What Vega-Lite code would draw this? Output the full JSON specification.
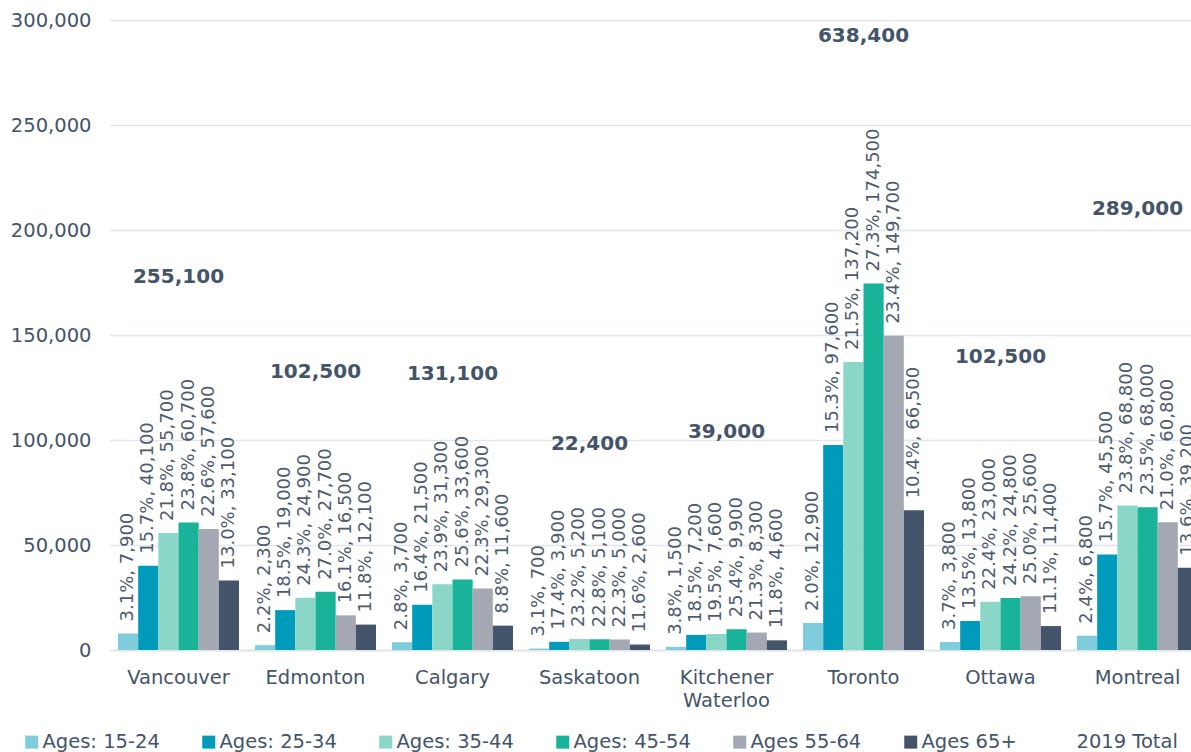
{
  "$schema": "https://vega.github.io/schema/vega-lite/v6.json",
  "width": 1081,
  "height": 630,
  "autosize": {"type": "none"},
  "padding": {"left": 110, "top": 20, "right": 0, "bottom": 102},
  "background": "white",
  "config": {
    "view": {"stroke": null},
    "font": "DejaVu Sans",
    "legend": {"padding": 0}
  },
  "datasets": {
    "ages": [
      {"city": "Vancouver", "group": "Ages: 15-24", "pct": 3.1, "value": 7900},
      {"city": "Vancouver", "group": "Ages: 25-34", "pct": 15.7, "value": 40100},
      {"city": "Vancouver", "group": "Ages: 35-44", "pct": 21.8, "value": 55700},
      {"city": "Vancouver", "group": "Ages: 45-54", "pct": 23.8, "value": 60700},
      {"city": "Vancouver", "group": "Ages 55-64", "pct": 22.6, "value": 57600},
      {"city": "Vancouver", "group": "Ages 65+", "pct": 13.0, "value": 33100},
      {"city": "Edmonton", "group": "Ages: 15-24", "pct": 2.2, "value": 2300},
      {"city": "Edmonton", "group": "Ages: 25-34", "pct": 18.5, "value": 19000},
      {"city": "Edmonton", "group": "Ages: 35-44", "pct": 24.3, "value": 24900},
      {"city": "Edmonton", "group": "Ages: 45-54", "pct": 27.0, "value": 27700},
      {"city": "Edmonton", "group": "Ages 55-64", "pct": 16.1, "value": 16500},
      {"city": "Edmonton", "group": "Ages 65+", "pct": 11.8, "value": 12100},
      {"city": "Calgary", "group": "Ages: 15-24", "pct": 2.8, "value": 3700},
      {"city": "Calgary", "group": "Ages: 25-34", "pct": 16.4, "value": 21500},
      {"city": "Calgary", "group": "Ages: 35-44", "pct": 23.9, "value": 31300},
      {"city": "Calgary", "group": "Ages: 45-54", "pct": 25.6, "value": 33600},
      {"city": "Calgary", "group": "Ages 55-64", "pct": 22.3, "value": 29300},
      {"city": "Calgary", "group": "Ages 65+", "pct": 8.8, "value": 11600},
      {"city": "Saskatoon", "group": "Ages: 15-24", "pct": 3.1, "value": 700},
      {"city": "Saskatoon", "group": "Ages: 25-34", "pct": 17.4, "value": 3900},
      {"city": "Saskatoon", "group": "Ages: 35-44", "pct": 23.2, "value": 5200},
      {"city": "Saskatoon", "group": "Ages: 45-54", "pct": 22.8, "value": 5100},
      {"city": "Saskatoon", "group": "Ages 55-64", "pct": 22.3, "value": 5000},
      {"city": "Saskatoon", "group": "Ages 65+", "pct": 11.6, "value": 2600},
      {"city": "Kitchener Waterloo", "group": "Ages: 15-24", "pct": 3.8, "value": 1500},
      {"city": "Kitchener Waterloo", "group": "Ages: 25-34", "pct": 18.5, "value": 7200},
      {"city": "Kitchener Waterloo", "group": "Ages: 35-44", "pct": 19.5, "value": 7600},
      {"city": "Kitchener Waterloo", "group": "Ages: 45-54", "pct": 25.4, "value": 9900},
      {"city": "Kitchener Waterloo", "group": "Ages 55-64", "pct": 21.3, "value": 8300},
      {"city": "Kitchener Waterloo", "group": "Ages 65+", "pct": 11.8, "value": 4600},
      {"city": "Toronto", "group": "Ages: 15-24", "pct": 2.0, "value": 12900},
      {"city": "Toronto", "group": "Ages: 25-34", "pct": 15.3, "value": 97600},
      {"city": "Toronto", "group": "Ages: 35-44", "pct": 21.5, "value": 137200},
      {"city": "Toronto", "group": "Ages: 45-54", "pct": 27.3, "value": 174500},
      {"city": "Toronto", "group": "Ages 55-64", "pct": 23.4, "value": 149700},
      {"city": "Toronto", "group": "Ages 65+", "pct": 10.4, "value": 66500},
      {"city": "Ottawa", "group": "Ages: 15-24", "pct": 3.7, "value": 3800},
      {"city": "Ottawa", "group": "Ages: 25-34", "pct": 13.5, "value": 13800},
      {"city": "Ottawa", "group": "Ages: 35-44", "pct": 22.4, "value": 23000},
      {"city": "Ottawa", "group": "Ages: 45-54", "pct": 24.2, "value": 24800},
      {"city": "Ottawa", "group": "Ages 55-64", "pct": 25.0, "value": 25600},
      {"city": "Ottawa", "group": "Ages 65+", "pct": 11.1, "value": 11400},
      {"city": "Montreal", "group": "Ages: 15-24", "pct": 2.4, "value": 6800},
      {"city": "Montreal", "group": "Ages: 25-34", "pct": 15.7, "value": 45500},
      {"city": "Montreal", "group": "Ages: 35-44", "pct": 23.8, "value": 68800},
      {"city": "Montreal", "group": "Ages: 45-54", "pct": 23.5, "value": 68000},
      {"city": "Montreal", "group": "Ages 55-64", "pct": 21.0, "value": 60800},
      {"city": "Montreal", "group": "Ages 65+", "pct": 13.6, "value": 39200}
    ],
    "totals": [
      {"city": "Vancouver", "total": 255100, "labelAt": 177600},
      {"city": "Edmonton", "total": 102500, "labelAt": 132400},
      {"city": "Calgary", "total": 131100, "labelAt": 131200},
      {"city": "Saskatoon", "total": 22400, "labelAt": 97900},
      {"city": "Kitchener Waterloo", "total": 39000, "labelAt": 103800},
      {"city": "Toronto", "total": 638400, "labelAt": 292600},
      {"city": "Ottawa", "total": 102500, "labelAt": 139500},
      {"city": "Montreal", "total": 289000, "labelAt": 210200}
    ]
  },
  "encoding": {
    "x": {
      "field": "city",
      "type": "nominal",
      "scale": {
        "domain": ["Vancouver", "Edmonton", "Calgary", "Saskatoon", "Kitchener Waterloo", "Toronto", "Ottawa", "Montreal"],
        "range": [0, 1096],
        "paddingInner": 0.117,
        "paddingOuter": 0.0585
      },
      "axis": {
        "title": null,
        "labelAngle": 0,
        "labelExpr": "split(datum.label, ' ')",
        "labelFontSize": 19.5,
        "labelColor": "#44546A",
        "labelPadding": 18,
        "labelLineHeight": 23,
        "labelBaseline": "top",
        "ticks": false,
        "domain": true,
        "domainColor": "#E1E5EC",
        "domainWidth": 2,
        "grid": false
      }
    }
  },
  "layer": [
    {
      "data": {"name": "ages"},
      "mark": {"type": "bar"},
      "encoding": {
        "xOffset": {
          "field": "group",
          "type": "nominal",
          "scale": {"domain": ["Ages: 15-24", "Ages: 25-34", "Ages: 35-44", "Ages: 45-54", "Ages 55-64", "Ages 65+"], "paddingInner": 0, "paddingOuter": 0}
        },
        "y": {
          "field": "value",
          "type": "quantitative",
          "scale": {"domain": [0, 300000], "nice": false},
          "axis": {
            "title": null,
            "values": [0, 50000, 100000, 150000, 200000, 250000, 300000],
            "format": ",.0f",
            "labelFontSize": 19.5,
            "labelColor": "#44546A",
            "ticks": false,
            "tickSize": 0,
            "labelPadding": 19,
            "domain": false,
            "grid": true,
            "gridColor": "#E1E5EC",
            "gridWidth": 1.5
          }
        },
        "color": {
          "field": "group",
          "type": "nominal",
          "scale": {
            "domain": ["Ages: 15-24", "Ages: 25-34", "Ages: 35-44", "Ages: 45-54", "Ages 55-64", "Ages 65+", "2019 Total"],
            "range": ["#7FCCDC", "#009BBB", "#8AD7C8", "#18B399", "#A3A8B2", "#44546A", "#FFFFFF"]
          },
          "legend": {
            "title": null,
            "orient": "none",
            "legendX": -88,
            "legendY": 712,
            "direction": "horizontal",
            "columns": 7,
            "columnPadding": 39,
            "symbolType": "square",
            "symbolSize": 169,
            "symbolStrokeWidth": 0,
            "symbolOpacity": 1,
            "labelFontSize": 19.5,
            "labelColor": "#44546A",
            "labelOffset": 1,
            "labelLimit": 300
          }
        }
      }
    },
    {
      "data": {"name": "ages"},
      "transform": [
        {"calculate": "format(datum.pct, '.1f') + '%, ' + format(datum.value, ',')", "as": "label"}
      ],
      "mark": {"type": "text", "angle": 270, "align": "left", "baseline": "middle", "dx": 12, "fontSize": 18, "color": "#4D5B70"},
      "encoding": {
        "xOffset": {
          "field": "group",
          "type": "nominal",
          "scale": {"domain": ["Ages: 15-24", "Ages: 25-34", "Ages: 35-44", "Ages: 45-54", "Ages 55-64", "Ages 65+"], "paddingInner": 0, "paddingOuter": 0}
        },
        "y": {"field": "value", "type": "quantitative"},
        "text": {"field": "label", "type": "nominal"}
      }
    },
    {
      "data": {"name": "totals"},
      "mark": {"type": "text", "align": "center", "baseline": "middle", "fontSize": 20, "fontWeight": "bold", "color": "#44546A"},
      "encoding": {
        "y": {"field": "labelAt", "type": "quantitative"},
        "text": {"field": "total", "type": "quantitative", "format": ","}
      }
    }
  ]
}
